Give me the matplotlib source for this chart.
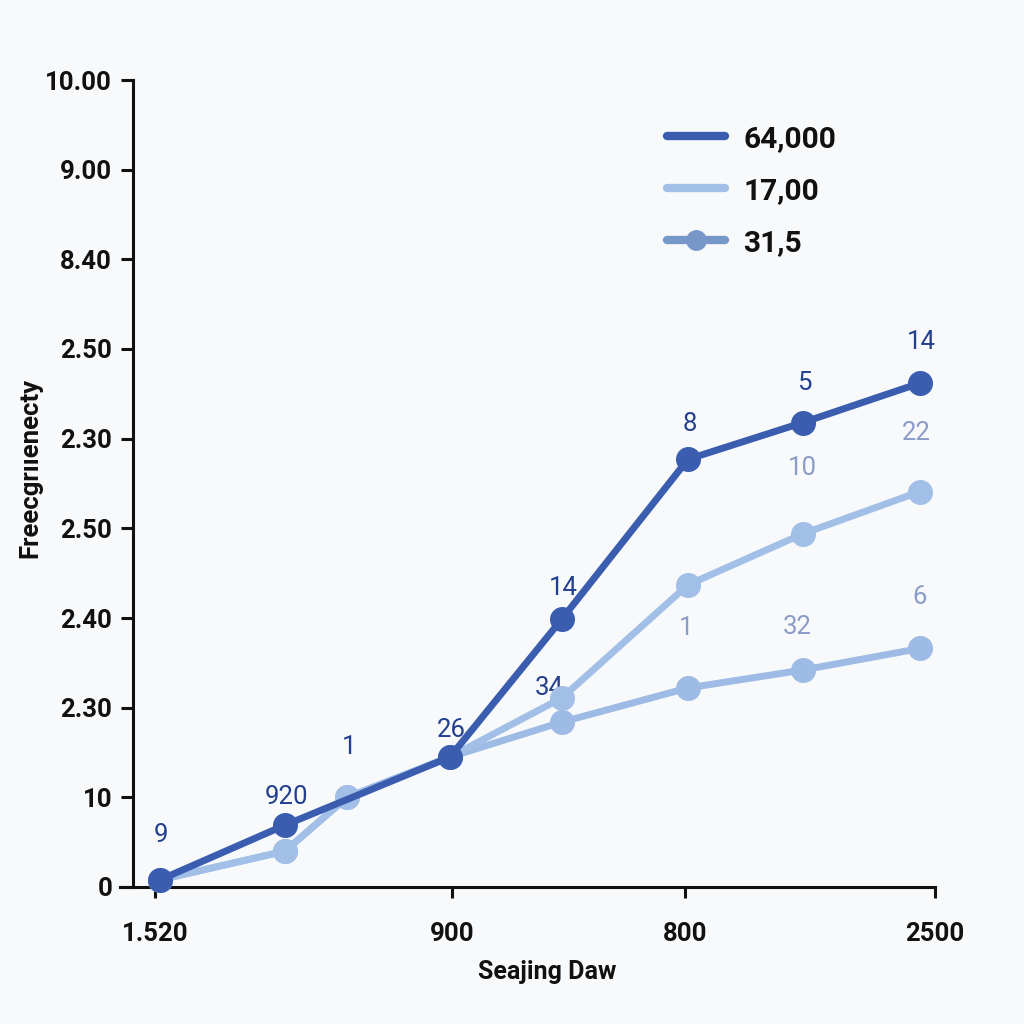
import matplotlib
matplotlib.use("Agg")
import matplotlib.pyplot as plt
from matplotlib.lines import Line2D

# y axis uses evenly spaced slots with odd labels
y_tick_labels = ["0", "10", "2.30", "2.40", "2.50", "2.30", "2.50", "8.40", "9.00", "10.00"]
x_tick_pos = [0.0, 2.97, 5.30, 7.80]
x_tick_labels = ["1.520", "900", "800", "2500"]

dark_x = [0.05, 1.30, 2.95, 4.07, 5.33, 6.48, 7.65]
dark_y = [0.08, 0.69, 1.45, 2.99, 4.77, 5.18, 5.62]
dark_labels = ["9", "920", "26", "14", "8", "5", "14"]
dark_label_lift = [45, 28, 27, 31, 35, 40, 41]  # px above marker

upper_x = [0.05, 1.30, 1.92, 2.95, 4.07, 5.33, 6.48, 7.65]
upper_y = [0.08, 0.40, 1.00, 1.45, 2.11, 3.37, 3.94, 4.41]

lower_x = [0.05, 1.30, 1.92, 2.95, 4.07, 5.33, 6.48, 7.65]
lower_y = [0.08, 0.40, 1.00, 1.45, 1.84, 2.22, 2.42, 2.66]

# extra floating labels: (x, y, text, colour key)
extra_labels = [
    (1.94, 1.56, "1", "dark"),
    (3.94, 2.22, "34", "dark"),
    (5.31, 2.89, "1", "pale"),
    (6.42, 2.90, "32", "pale"),
    (7.65, 3.23, "6", "pale"),
    (6.47, 4.67, "10", "pale"),
    (7.61, 5.06, "22", "pale"),
]

legend_names = ["64,000", "17,00", "31,5"]

dark = "#3a5db0"
light = "#a2c0e7"
light2 = "#9dbbe4"
mid = "#7897c9"
text_dark = "#233f8f"
text_pale = "#8c9cc8"
bg = "#f8f9fb"

fig = plt.figure(figsize=(10.24, 10.24), dpi=100, facecolor=bg)
ax = fig.add_axes([120 / 1024, 137 / 1024, 815 / 1024, 807 / 1024])
ax.set_facecolor(bg)

ax.set_xlim(-0.35, 7.80)
ax.set_ylim(0, 9)

for x, y, t, c in extra_labels:
    ax.text(x, y, t, ha="center", va="center", fontsize=18.5, family="Roboto",
            color=text_dark if c == "dark" else text_pale, zorder=1)
for x, y, t, d in zip(dark_x, dark_y, dark_labels, dark_label_lift):
    ax.annotate(t, (x, y), xytext=(1, d * 0.72), textcoords="offset points",
                ha="center", va="center", fontsize=18.5, family="Roboto",
                color=text_dark, zorder=1)

ax.plot(lower_x, lower_y, color=light2, lw=5, marker="o", ms=17,
        solid_capstyle="round", zorder=3, clip_on=False)
ax.plot(upper_x, upper_y, color=light, lw=5, marker="o", ms=17,
        solid_capstyle="round", zorder=3, clip_on=False)
ax.plot(dark_x, dark_y, color=dark, lw=5, marker="o", ms=17,
        solid_capstyle="round", zorder=4, clip_on=False)

ax.spines["top"].set_visible(False)
ax.spines["right"].set_visible(False)
ax.spines["left"].set_position(("data", -0.22))
for s in ["left", "bottom"]:
    ax.spines[s].set_linewidth(2.2)
    ax.spines[s].set_color("#111111")

ax.set_yticks(range(10))
ax.set_yticklabels(y_tick_labels)
ax.set_xticks(x_tick_pos)
ax.set_xticklabels(x_tick_labels)
ax.tick_params(axis="y", length=9, width=2.2, color="#111111", pad=6)
ax.tick_params(axis="x", length=8, width=2.2, color="#111111", pad=17)
for lab in ax.get_yticklabels() + ax.get_xticklabels():
    lab.set_fontfamily("Roboto")
    lab.set_fontweight("bold")
    lab.set_fontsize(18.5)
    lab.set_color("#111111")

fig.text(30 / 1024, 1 - 468 / 1024, "Freecgrııenecty", rotation=90, ha="center",
         va="center", fontsize=18.5, fontweight="bold", family="Roboto", color="#111111")
fig.text(547 / 1024, 1 - 972 / 1024, "Seajing Daw", ha="center", va="center",
         fontsize=18, fontweight="bold", family="Roboto", color="#111111")

handles = [
    Line2D([], [], color=dark, lw=6, solid_capstyle="round"),
    Line2D([], [], color=light, lw=6, solid_capstyle="round"),
    Line2D([], [], color=mid, lw=6, marker="o", ms=14, solid_capstyle="round"),
]
leg = ax.legend(handles, legend_names, loc="upper left",
                bbox_to_anchor=(640 / 1024, 1 - 98 / 1024),
                bbox_transform=fig.transFigure, frameon=False,
                handlelength=1.95, handletextpad=0.6, labelspacing=0.8,
                prop={"family": "Roboto", "weight": "bold", "size": 21.5})
for t in leg.get_texts():
    t.set_color("#111111")

fig.savefig("out.png", dpi=100, facecolor=bg)
